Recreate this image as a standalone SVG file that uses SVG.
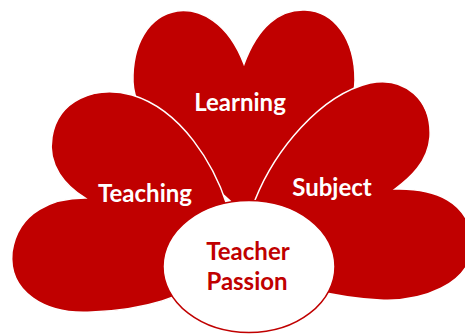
<svg xmlns="http://www.w3.org/2000/svg" width="465" height="334" viewBox="0 0 465 334">
<style>
.petal{fill:#C00000;stroke:#FFFFFF;stroke-width:1.5}
.lbl{font-family:Lato,"Open Sans","Liberation Sans",sans-serif;font-weight:bold;font-size:24px;fill:#FFFFFF;text-anchor:middle}
.ctr{font-family:Lato,"Open Sans","Liberation Sans",sans-serif;font-weight:bold;font-size:24px;fill:#C00000;text-anchor:middle}
</style>
<rect width="465" height="334" fill="#FFFFFF"/>
<g id="learning">
<path class="petal" d="M244,64 C228,22 200,8 177,11 C148,16 132,45 133,82 C135,130 200,170 245,215 C290,170 355,130 355,80 C355,40 335,11 305,10 C280,9 258,26 244,64 Z"/>
<text class="lbl" x="240" y="111">Learning</text>
</g>
<g id="teaching">
<path class="petal" d="M227,205 C214,165 182,110 132,95 C95,85 58,100 52,137 C47,166 66,186 85,198 C55,198 18,210 12,252 C8,292 45,315 92,312 C140,310 185,300 230,265 Z"/>
<text class="lbl" x="145" y="202">Teaching</text>
</g>
<g id="subject">
<path class="petal" d="M255,200 C275,150 320,95 370,83 C405,76 432,100 430,137 C428,162 410,178 395,189 C432,188 472,200 472,245 C472,285 420,302 380,300 C340,298 300,290 260,270 Z"/>
<text class="lbl" x="332" y="196">Subject</text>
</g>
<g id="teacher-passion">
<ellipse cx="249" cy="266.5" rx="86" ry="66" fill="#FFFFFF" stroke="#C00000" stroke-width="1.5"/>
<text class="ctr" x="248" y="260">Teacher</text>
<text class="ctr" x="247" y="290">Passion</text>
</g>
<g id="connectors"/>
</svg>
